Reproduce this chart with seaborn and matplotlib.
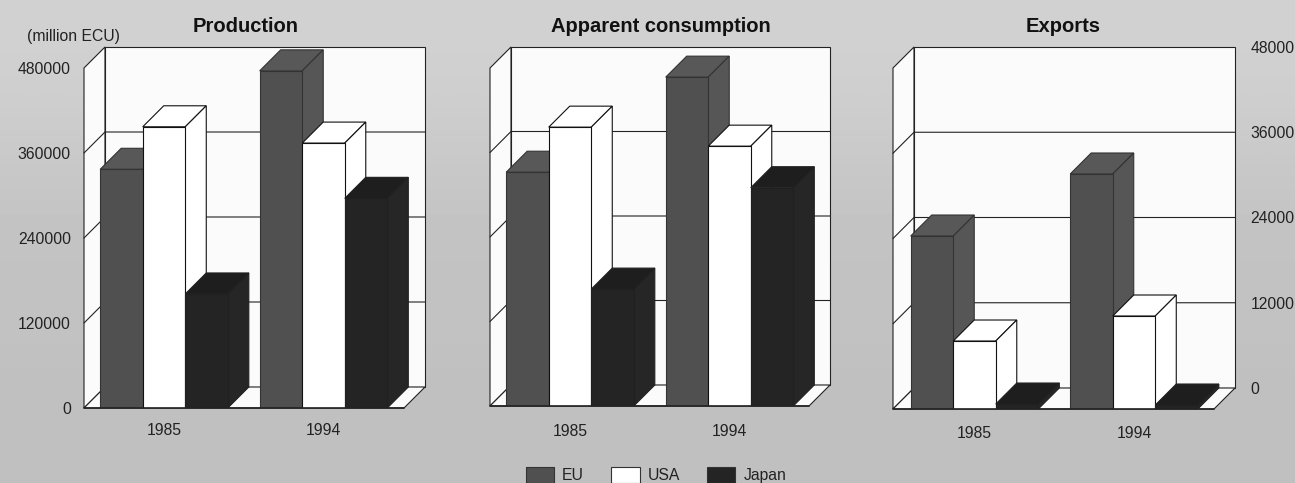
import matplotlib
matplotlib.use("Agg")
import matplotlib.pyplot as plt
import numpy as np
import pandas as pd
import seaborn as sns
from matplotlib.patches import Patch, Polygon

YEARS = ["1985", "1994"]
REGIONS = ["EU", "USA", "Japan"]
TITLES = ["Production", "Apparent consumption", "Exports"]

production = [337000, 397000, 161000, 476000, 374000, 296000]
consumption = [332000, 396000, 166000, 467000, 369000, 310000]
exports = [24350, 9570, 700, 33080, 13090, 560]

prod_ticks = [0, 120000, 240000, 360000, 480000]
exp_ticks = [0, 12000, 24000, 36000, 48000]
bg_levels = [0.82, 0.81, 0.79, 0.77, 0.76, 0.76, 0.75, 0.75]

W, H = 1295, 483
DEPTH = 21
GROUP_PX = 159.5
FRONT = {"EU": "#505050", "USA": "#ffffff", "Japan": "#242424"}
TOP = {"EU": "#585858", "USA": "#ffffff", "Japan": "#1e1e1e"}
SIDE = {"EU": "#565656", "USA": "#ffffff", "Japan": "#262626"}
EDGE = {"EU": "#333333", "USA": "#111111", "Japan": "#202020"}

# pixel box of each panel: left, right, top, bottom, centre of first group, year label pad
PANELS = [(84, 425, 47, 408, 164, 10.5), (490, 830, 47, 406, 570, 13), (893, 1235, 47, 409, 974.5, 12.5)]

sns.set_theme(style="white")
plt.rcParams["font.family"] = ["Liberation Sans", "DejaVu Sans"]


def to_fig(x, y):
    return x / W, 1 - y / H


def draw_panel(fig, box, values, ticks):
    left, right, top, bottom, c1, xpad = box
    ax = fig.add_axes([left / W, 1 - bottom / H, (right - left) / W, (bottom - top) / H])
    ax.patch.set_alpha(0)
    df = pd.DataFrame({
        "year": np.repeat(YEARS, len(REGIONS)),
        "region": REGIONS * len(YEARS),
        "value": values,
    })
    sns.barplot(data=df, x="year", y="value", hue="region", order=YEARS, hue_order=REGIONS,
                palette=FRONT, width=0.8, gap=0, saturation=1, legend=False, ax=ax)
    bars = sorted(ax.patches, key=lambda p: p.get_x())

    plot_h = bottom - top - DEPTH
    dy = ticks[-1] / plot_h * DEPTH
    dx = DEPTH / GROUP_PX
    y1 = ticks[-1] + dy
    x0, x1 = (left - c1) / GROUP_PX, (right - c1) / GROUP_PX
    ax.set_xlim(x0, x1)
    ax.set_ylim(0, y1)

    # walls and floor
    line = dict(edgecolor="#222222", linewidth=0.8, clip_on=False, zorder=0.5)
    ax.add_patch(Polygon([(x0, 0), (x0 + dx, dy), (x0 + dx, y1), (x0, ticks[-1])], facecolor="#fbfbfb", **line))
    ax.add_patch(Polygon([(x0 + dx, dy), (x1, dy), (x1, y1), (x0 + dx, y1)], facecolor="#fbfbfb", **line))
    ax.add_patch(Polygon([(x0, 0), (x1 - dx, 0), (x1, dy), (x0 + dx, dy)], facecolor="#fbfbfb", **line))
    for v in ticks[1:-1]:
        ax.plot([x0, x0 + dx, x1], [v, v + dy, v + dy], color="#222222", lw=0.8, zorder=1, clip_on=False)

    # extruded tops and sides, left to right so each bar hides the one before it
    for i, (b, name) in enumerate(zip(bars, REGIONS * len(YEARS))):
        xa, xb, h = b.get_x(), b.get_x() + b.get_width(), b.get_height()
        b.set_zorder(3 + 2 * i + 1)
        b.set_edgecolor(EDGE[name])
        b.set_linewidth(0.8)
        style = dict(edgecolor=EDGE[name], linewidth=0.8, zorder=3 + 2 * i, clip_on=False)
        ax.add_patch(Polygon([(xa, h), (xa + dx, h + dy), (xb + dx, h + dy), (xb, h)], facecolor=TOP[name], **style))
        ax.add_patch(Polygon([(xb, 0), (xb + dx, dy), (xb + dx, h + dy), (xb, h)], facecolor=SIDE[name], **style))

    ax.plot([x0, x1 - dx], [0, 0], color="#222222", lw=1.2, zorder=40, clip_on=False)
    sns.despine(ax=ax, left=True, bottom=True, right=True, top=True)
    ax.set_xlabel("")
    ax.set_ylabel("")
    ax.tick_params(axis="x", length=0, pad=xpad, labelsize=11.3, colors="#222222")
    return ax, dy


fig = plt.figure(figsize=(W / 100, H / 100), dpi=100, facecolor="#c4c4c4")
bg = fig.add_axes([0, 0, 1, 1], zorder=-1)
bg.imshow(np.array(bg_levels).reshape(-1, 1), cmap="gray", vmin=0, vmax=1, aspect="auto", interpolation="bilinear")
bg.axis("off")

ax1, _ = draw_panel(fig, PANELS[0], production, prod_ticks)
ax1.set_yticks(prod_ticks, [str(v) for v in prod_ticks])
ax1.tick_params(axis="y", length=0, pad=9.5, labelsize=11.3, colors="#222222")

ax2, _ = draw_panel(fig, PANELS[1], consumption, prod_ticks)
ax2.set_yticks([])

ax3, dy3 = draw_panel(fig, PANELS[2], exports, exp_ticks)
ax3.yaxis.tick_right()
ax3.set_yticks([v + dy3 for v in exp_ticks], [str(v) for v in exp_ticks])
ax3.tick_params(axis="y", length=0, pad=11, labelsize=11.3, colors="#222222")

for title, (tx, ty) in zip(TITLES, [(246, 26), (661, 26), (1063, 27)]):
    fx, fy = to_fig(tx, ty)
    fig.text(fx, fy, title, ha="center", va="center", fontsize=14.5, fontweight="bold", color="#111111")
fx, fy = to_fig(27, 37)
fig.text(fx, fy, "(million ECU)", ha="left", va="center", fontsize=11.3, color="#222222")

handles = [Patch(facecolor=FRONT[r], edgecolor="#333333", linewidth=0.8, label=r) for r in REGIONS]
fig.legend(handles=handles, ncol=3, frameon=False, loc="center", bbox_to_anchor=to_fig(656, 475),
           fontsize=11.3, handlelength=1.8, handleheight=1.2, handletextpad=0.5, columnspacing=1.75,
           borderpad=0, labelcolor="#222222")

fig.savefig("out.png", dpi=100, facecolor=fig.get_facecolor())
